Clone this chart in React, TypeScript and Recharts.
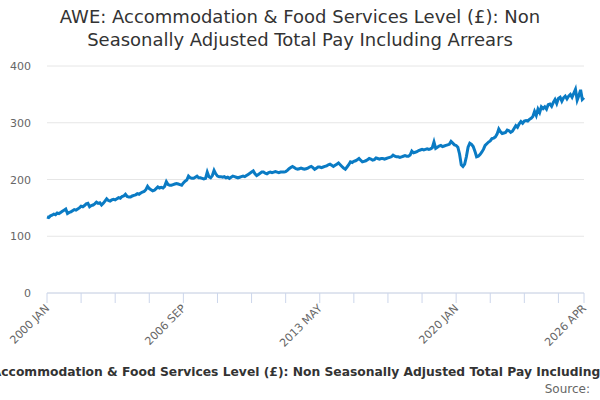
import React from 'react';
import { LineChart, Line, XAxis, YAxis, CartesianGrid } from 'recharts';

// Years and months covered by the series (monthly, 2000 JAN – 2026 APR)
const YEARS = [
  2000, 2001, 2002, 2003, 2004, 2005, 2006, 2007, 2008, 2009, 2010, 2011, 2012, 2013,
  2014, 2015, 2016, 2017, 2018, 2019, 2020, 2021, 2022, 2023, 2024, 2025, 2026,
];
const MONTHS = ['JAN', 'FEB', 'MAR', 'APR', 'MAY', 'JUN', 'JUL', 'AUG', 'SEP', 'OCT', 'NOV', 'DEC'];

// AWE level (£), one row per year
const V2000 = [134, 133, 136, 137, 139, 138, 141, 140, 142, 144, 146, 148];
const V2001 = [140, 142, 143, 145, 147, 146, 148, 150, 153, 152, 154, 157];
const V2002 = [158, 152, 154, 155, 157, 160, 158, 159, 155, 158, 162, 166];
const V2003 = [163, 162, 164, 165, 164, 166, 168, 167, 170, 171, 174, 170];
const V2004 = [169, 169, 171, 172, 173, 175, 174, 176, 178, 179, 182, 188];
const V2005 = [184, 182, 180, 181, 184, 187, 185, 186, 185, 188, 196, 191];
const V2006 = [190, 190, 191, 192, 193, 192, 191, 190, 194, 197, 199, 206];
const V2007 = [203, 202, 202, 204, 206, 203, 203, 202, 201, 202, 213, 205];
const V2008 = [203, 207, 216, 210, 206, 205, 205, 204, 205, 203, 204, 202];
const V2009 = [204, 206, 205, 204, 203, 204, 205, 206, 205, 207, 209, 211];
const V2010 = [213, 215, 210, 207, 209, 211, 213, 213, 211, 210, 212, 213];
const V2011 = [212, 213, 214, 213, 212, 213, 213, 213, 214, 216, 219, 221];
const V2012 = [223, 221, 219, 218, 219, 220, 219, 218, 219, 220, 222, 223];
const V2013 = [221, 218, 220, 222, 222, 221, 222, 223, 224, 226, 227, 225];
const V2014 = [223, 225, 227, 229, 226, 223, 220, 218, 222, 226, 231, 230];
const V2015 = [232, 233, 235, 237, 234, 231, 232, 233, 235, 237, 236, 234];
const V2016 = [235, 238, 237, 236, 237, 237, 236, 237, 238, 239, 240, 243];
const V2017 = [241, 240, 240, 239, 240, 241, 242, 241, 241, 243, 250, 247];
const V2018 = [248, 249, 251, 252, 253, 252, 253, 254, 253, 254, 256, 266];
const V2019 = [255, 257, 259, 260, 258, 259, 260, 261, 262, 267, 264, 261];
const V2020 = [260, 257, 245, 226, 223, 227, 240, 257, 264, 262, 258, 250];
const V2021 = [240, 241, 244, 248, 253, 260, 263, 266, 268, 272, 273, 275];
const V2022 = [280, 289, 284, 281, 282, 283, 287, 286, 283, 285, 290, 295];
const V2023 = [292, 298, 302, 299, 303, 304, 303, 306, 308, 311, 320, 313];
const V2024 = [324, 318, 328, 325, 328, 324, 332, 333, 329, 336, 341, 334];
const V2025 = [343, 345, 338, 344, 347, 342, 347, 350, 345, 352, 359, 340];
const V2026 = [348, 358, 341, 344];

const VALUES = [
  ...V2000, ...V2001, ...V2002, ...V2003, ...V2004, ...V2005, ...V2006, ...V2007,
  ...V2008, ...V2009, ...V2010, ...V2011, ...V2012, ...V2013, ...V2014, ...V2015,
  ...V2016, ...V2017, ...V2018, ...V2019, ...V2020, ...V2021, ...V2022, ...V2023,
  ...V2024, ...V2025, ...V2026,
];

// tick marks every 20 months, labels on a few of them
const TICK_MONTHS = [
  '2000 JAN', '2001 SEP', '2003 MAY', '2005 JAN', '2006 SEP', '2008 MAY', '2010 JAN',
  '2011 SEP', '2013 MAY', '2015 JAN', '2016 SEP', '2018 MAY', '2020 JAN', '2021 SEP',
  '2023 MAY', '2025 JAN', '2026 APR',
];
const LABELLED = ['2000 JAN', '2006 SEP', '2013 MAY', '2020 JAN', '2026 APR'];
const Y_TICKS = [0, 100, 200, 300, 400];

const TITLE_1 = 'AWE: Accommodation & Food Services Level (£): Non';
const TITLE_2 = 'Seasonally Adjusted Total Pay Including Arrears';
const AXIS_TITLE =
  'AWE: Accommodation & Food Services Level (£): Non Seasonally Adjusted Total Pay Including Arrears';

const FONT = '"DejaVu Sans", Verdana, sans-serif';

const labels: string[] = [];
YEARS.forEach((y) => MONTHS.forEach((m) => labels.push(`${y} ${m}`)));
const data = VALUES.map((v, i) => ({ month: labels[i], value: v }));

function XTick(props: any) {
  const { x, y, payload } = props;
  if (!LABELLED.includes(payload.value)) return null;
  return (
    <text
      x={x + 3}
      y={y + 4}
      transform={`rotate(-45 ${x + 3} ${y + 4})`}
      textAnchor="end"
      fontSize={11}
      fill="#666"
      fontFamily={FONT}
    >
      {payload.value}
    </text>
  );
}

function YTick(props: any) {
  const { y, payload } = props;
  return (
    <text x={31} y={y + 4} textAnchor="end" fontSize={11} fill="#666" fontFamily={FONT}>
      {payload.value}
    </text>
  );
}

export default function App() {
  return (
    <div
      style={{
        position: 'fixed',
        left: 0,
        top: 0,
        width: 600,
        height: 400,
        background: '#fff',
        fontFamily: FONT,
        overflow: 'hidden',
      }}
    >
      <div
        style={{
          position: 'absolute',
          top: 5,
          left: 0,
          width: 600,
          textAlign: 'center',
          fontSize: 18,
          lineHeight: '23px',
          color: '#333',
        }}
      >
        <div>{TITLE_1}</div>
        <div>{TITLE_2}</div>
      </div>
      <LineChart
        width={600}
        height={400}
        data={data}
        margin={{ top: 66, right: 16, bottom: 47, left: 0 }}
      >
        <CartesianGrid stroke="#e6e6e6" vertical={false} />
        <XAxis
          dataKey="month"
          ticks={TICK_MONTHS}
          interval={0}
          tick={<XTick />}
          tickSize={10}
          height={60}
          stroke="#ccd6eb"
          tickLine={{ stroke: '#ccd6eb' }}
        />
        <YAxis
          domain={[0, 400]}
          ticks={Y_TICKS}
          width={47}
          axisLine={false}
          tickLine={false}
          tick={<YTick />}
        />
        <Line
          type="linear"
          dataKey="value"
          stroke="#0a7bc4"
          strokeWidth={3}
          dot={false}
          isAnimationActive={false}
        />
      </LineChart>
      <div
        style={{
          position: 'absolute',
          top: 365,
          left: 304 - 500,
          width: 1000,
          textAlign: 'center',
          fontSize: 12.3,
          fontWeight: 'bold',
          color: '#333',
          whiteSpace: 'nowrap',
        }}
      >
        {AXIS_TITLE}
      </div>
      <div
        style={{
          position: 'absolute',
          top: 382,
          right: 10,
          fontSize: 12,
          color: '#666',
        }}
      >
        Source:
      </div>
    </div>
  );
}
